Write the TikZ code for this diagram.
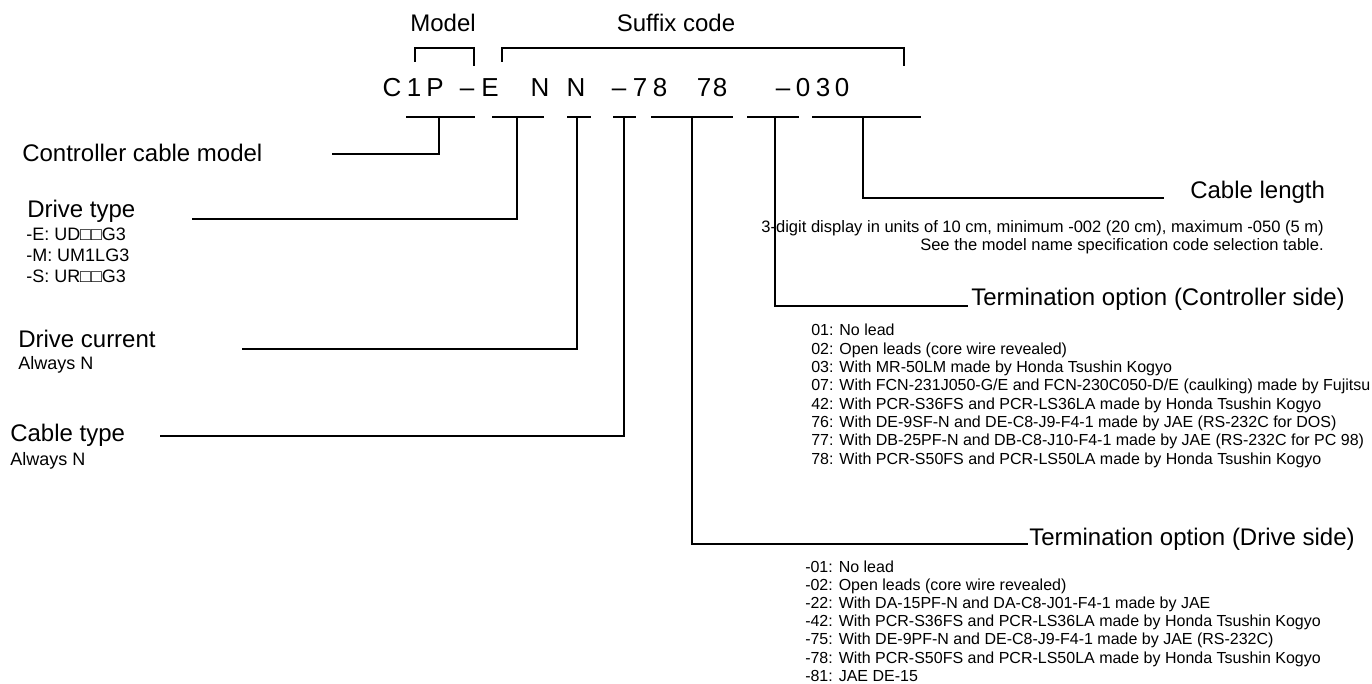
\documentclass[tikz,border=0pt]{standalone}
\usepackage{fontspec}
\setmainfont{Liberation Sans}
\begin{document}
\begin{tikzpicture}[x=0.75pt,y=-0.75pt,
  ln/.style={line width=1.7pt},
  lab/.style={inner sep=0pt, anchor=base west, font=\fontsize{18}{21}\selectfont},
  sub/.style={inner sep=0pt, anchor=base west, font=\fontsize{13.5}{16}\selectfont},
  item/.style={inner sep=0pt, anchor=base west, font=\fontsize{12}{14}\selectfont},
  note/.style={inner sep=0pt, anchor=base east, font=\fontsize{12.4}{14}\selectfont},
  codech/.style={inner sep=0pt, anchor=base, font=\fontsize{19.5}{22}\selectfont}]
\useasboundingbox (0,0) rectangle (1372,684);

% header labels
\node[lab, anchor=base] (model) at (443,32) {Model};
\node[lab, anchor=base] (suffix) at (676,32) {Suffix code};

% brackets
\coordinate (m1) at (415,62); \coordinate (m1t) at (415,48);
\coordinate (m2t) at (474,48); \coordinate (m2) at (474,66);
\draw[ln] (m1) -- (m1t) -- (m2t) -- (m2);
\coordinate (s1) at (502,62); \coordinate (s1t) at (502,48);
\coordinate (s2t) at (904,48); \coordinate (s2) at (904,66);
\draw[ln] (s1) -- (s1t) -- (s2t) -- (s2);

% code characters
\foreach \ch/\xx [count=\i] in {C/392,1/414,P/435,–/467,E/490,N/540,N/576,–/619,7/640,8/660,7/704,8/720,–/783,0/803,3/823,0/842}
  \node[codech] (ch\i) at (\xx,97) {\ch};

% bars and stems
\foreach \i/\l/\r/\t in {1/406/475/439, 2/492/544/517, 3/567/591/577, 4/613/636/624, 5/651/733/692, 6/747/799/775, 7/812/921/863}{
  \coordinate (bl\i) at (\l,117);
  \coordinate (br\i) at (\r,117);
  \coordinate (bt\i) at (\t,117);
  \draw[ln] (bl\i) -- (br\i);
}
\coordinate (e1) at (332,154);
\coordinate (e2) at (192,219);
\coordinate (e3) at (242,349);
\coordinate (e4) at (160,436);
\coordinate (e5) at (1028,544);
\coordinate (e6) at (968,306);
\coordinate (e7) at (1164,198);
\foreach \i in {1,...,7}{
  \draw[ln] (bt\i) |- (e\i);
}

% left labels
\node[lab] (ccm) at (22,162) {Controller cable model};
\node[lab] (dt) at (27,218) {Drive type};
\node[sub] (dtE) at (26,240.5) {-E: UD□□G3};
\node[sub] (dtM) at (26,261.5) {-M: UM1LG3};
\node[sub] (dtS) at (26,282.5) {-S: UR□□G3};
\node[lab] (dc) at (18,348) {Drive current};
\node[sub] (dcN) at (18,369.5) {Always N};
\node[lab] (ct) at (10,441) {Cable type};
\node[sub] (ctN) at (10,465) {Always N};

% right labels
\node[lab] (cl) at (1190,199) {Cable length};
\node[note] (cl1) at (1324,233) {3-digit display in units of 10 cm, minimum -002 (20 cm), maximum -050 (5 m)};
\node[note] (cl2) at (1324,251) {See the model name specification code selection table.};

\node[lab] (toc) at (971,306) {Termination option (Controller side)};
\node[item] (c1) at (811,336) {01: No lead};
\node[item] (c2) at (811,354.3) {02: Open leads (core wire revealed)};
\node[item] (c3) at (811,372.6) {03: With MR-50LM made by Honda Tsushin Kogyo};
\node[item] (c4) at (811,390.9) {07: With FCN-231J050-G/E and FCN-230C050-D/E (caulking) made by Fujitsu};
\node[item] (c5) at (811,409.2) {42: With PCR-S36FS and PCR-LS36LA made by Honda Tsushin Kogyo};
\node[item] (c6) at (811,427.5) {76: With DE-9SF-N and DE-C8-J9-F4-1 made by JAE (RS-232C for DOS)};
\node[item] (c7) at (811,445.8) {77: With DB-25PF-N and DB-C8-J10-F4-1 made by JAE (RS-232C for PC 98)};
\node[item] (c8) at (811,464.1) {78: With PCR-S50FS and PCR-LS50LA made by Honda Tsushin Kogyo};

\node[lab] (tod) at (1029,545) {Termination option (Drive side)};
\node[item] (d1) at (805,572) {-01: No lead};
\node[item] (d2) at (805,590.2) {-02: Open leads (core wire revealed)};
\node[item] (d3) at (805,608.4) {-22: With DA-15PF-N and DA-C8-J01-F4-1 made by JAE};
\node[item] (d4) at (805,626.6) {-42: With PCR-S36FS and PCR-LS36LA made by Honda Tsushin Kogyo};
\node[item] (d5) at (805,644.8) {-75: With DE-9PF-N and DE-C8-J9-F4-1 made by JAE (RS-232C)};
\node[item] (d6) at (805,663) {-78: With PCR-S50FS and PCR-LS50LA made by Honda Tsushin Kogyo};
\node[item] (d7) at (805,681.2) {-81: JAE DE-15};
\end{tikzpicture}
\end{document}
